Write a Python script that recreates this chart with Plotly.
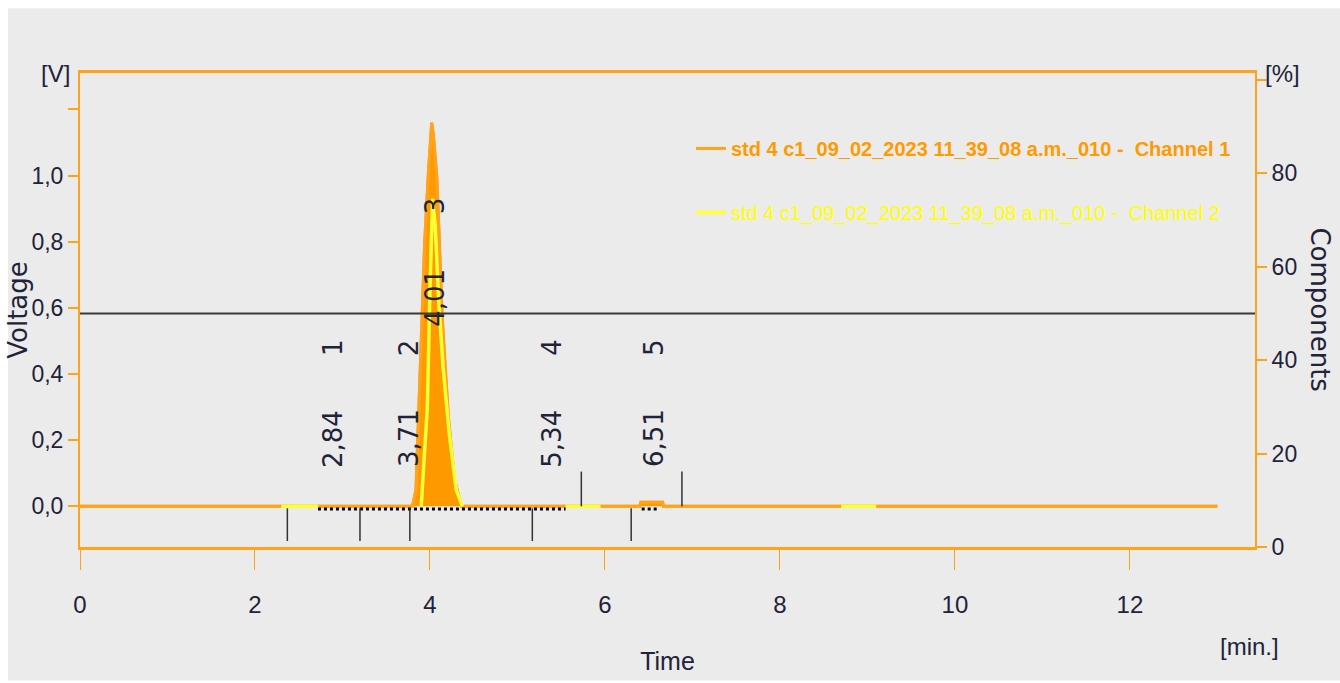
import plotly.graph_objects as go

# ---------------- data ----------------
ch1_time = [0.0, 2.30, 2.72, 3.80, 3.84, 3.87, 3.91, 3.94, 3.98, 4.01, 4.02, 4.04, 4.08, 4.11,
            4.14, 4.21, 4.28, 4.36, 6.40, 6.41, 6.66, 6.67, 13.0]
ch1_volt = [0.0, 0.0, 0.0, 0.0, 0.05, 0.27, 0.55, 0.80, 1.00, 1.14, 1.16, 1.12, 0.99, 0.78,
            0.57, 0.27, 0.08, 0.0, 0.0, 0.012, 0.012, 0.0, 0.0]

ch2_time = [2.30, 2.72, None, 3.90, 3.97, 4.00, 4.03, 4.06, 4.10, 4.15, 4.22, 4.30, 4.37, None,
            5.55, 5.95, None, 8.70, 9.10]
ch2_volt = [0.0, 0.0, None, 0.0, 0.30, 0.65, 0.93, 0.85, 0.62, 0.42, 0.22, 0.05, 0.0, None,
            0.0, 0.0, None, 0.0, 0.0]

baseline_start = [2.72, 6.42]
baseline_end = [5.55, 6.62]
baseline_level = -0.008

peak_ids = ["1", "2", "3", "4", "5"]
peak_rt = [2.84, 3.71, 4.01, 5.34, 6.51]
peak_rt_text = ["2,84", "3,71", "4,01", "5,34", "6,51"]
id_label_v = [0.48, 0.48, 0.91, 0.48, 0.48]
rt_label_v = [0.205, 0.205, 0.63, 0.205, 0.205]

start_marks = [2.37, 3.20, 3.77, 5.17, 6.30]
end_marks = [5.73, 6.88]

threshold_pct = 50

x_ticks = [0, 2, 4, 6, 8, 10, 12]
y_ticks = [0.0, 0.2, 0.4, 0.6, 0.8, 1.0, 1.2]
y_ticktext = ["0,0", "0,2", "0,4", "0,6", "0,8", "1,0", ""]
y2_ticks = [0, 20, 40, 60, 80, 100]
y2_ticktext = ["0", "20", "40", "60", "80", ""]

name1 = "std 4 c1_09_02_2023 11_39_08 a.m._010 -  Channel 1"
name2 = "std 4 c1_09_02_2023 11_39_08 a.m._010 -  Channel 2"

# ---------------- style ----------------
X_RANGE = [0, 13.43]
Y_RANGE = [-0.123, 1.31]
Y2_RANGE = [0, 101.5]
FONT = "Liberation Sans, Arial, sans-serif"
VFONT = "DejaVu Sans, sans-serif"
ORANGE = "#ffa31a"
FILL = "#ff9900"
YELLOW = "#ffff33"
TXT = "#222238"
MARK_LEN = 0.105

fig = go.Figure()

# channel 1 filled area (legend shows the line entry below)
fig.add_trace(go.Scatter(
    x=ch1_time, y=ch1_volt, mode="lines", fill="tozeroy", fillcolor=FILL,
    line=dict(color=ORANGE, width=3), showlegend=False, legendgroup="c1"))
fig.add_trace(go.Scatter(
    x=ch1_time, y=ch1_volt, mode="lines", line=dict(color=ORANGE, width=3),
    legendgroup="c1",
    name="<span style='color:#ff9a00'><b>" + name1 + "</b></span>"))

fig.add_trace(go.Scatter(
    x=ch2_time, y=ch2_volt, mode="lines", connectgaps=False, legendgroup="c2",
    line=dict(color=YELLOW, width=3.5),
    name="<span style='color:#ffff00'>" + name2 + "</span>"))

# integration baselines (dotted)
bx, by = [], []
for s, e in zip(baseline_start, baseline_end):
    bx += [s, e, None]
    by += [baseline_level, baseline_level, None]
fig.add_trace(go.Scatter(x=bx, y=by, mode="lines", showlegend=False,
                         line=dict(color="black", width=3, dash="dot")))

# peak start / end markers
mx, my = [], []
for t in start_marks:
    mx += [t, t, None]
    my += [-0.006, -MARK_LEN, None]
for t in end_marks:
    mx += [t, t, None]
    my += [0.0, MARK_LEN, None]
fig.add_trace(go.Scatter(x=mx, y=my, mode="lines", showlegend=False,
                         line=dict(color="#333333", width=1.5)))

# threshold line on components axis
fig.add_trace(go.Scatter(x=X_RANGE, y=[threshold_pct, threshold_pct], yaxis="y2",
                         mode="lines", showlegend=False,
                         line=dict(color="#3a3a3a", width=2)))

# peak labels
for pid, rt, rtt, v1, v2 in zip(peak_ids, peak_rt, peak_rt_text, id_label_v, rt_label_v):
    fig.add_annotation(x=rt, y=v1, text=pid, textangle=-90, showarrow=False,
                       xshift=4, font=dict(family=VFONT, size=26, color=TXT))
    fig.add_annotation(x=rt, y=v2, text=rtt, textangle=-90, showarrow=False,
                       xshift=4, font=dict(family=VFONT, size=26, color=TXT))

# unit labels and axis titles
fig.add_annotation(xref="paper", yref="paper", x=-0.021, y=1.0, text="[V]", showarrow=False,
                   yanchor="middle", xanchor="center", font=dict(family=FONT, size=24, color=TXT))
fig.add_annotation(xref="paper", yref="paper", x=1.023, y=1.0, text="[%]", showarrow=False,
                   yanchor="middle", xanchor="center", font=dict(family=FONT, size=24, color=TXT))
fig.add_annotation(xref="paper", yref="paper", x=0.995, y=-0.21, text="[min.]", showarrow=False,
                   xanchor="center", yanchor="middle", font=dict(family=FONT, size=24, color=TXT))
fig.add_annotation(xref="paper", yref="paper", x=1.055, y=0.5, text="Components", textangle=90,
                   showarrow=False, xanchor="center", yanchor="middle",
                   font=dict(family=VFONT, size=26, color=TXT))
fig.add_annotation(xref="paper", yref="paper", x=-0.053, y=0.5, text="Voltage", textangle=-90,
                   showarrow=False, xanchor="center", yanchor="middle",
                   font=dict(family=VFONT, size=26, color=TXT))

# white strip on top/left edge of the image
fig.add_shape(type="rect", xref="paper", yref="paper", layer="below",
              x0=(8 - 80) / 1175, x1=(1340 - 80) / 1175, y0=(549 - 683) / 476, y1=(549 - 8) / 476,
              fillcolor="#ebebeb", line=dict(width=0))

fig.update_layout(
    width=1340, height=683,
    margin=dict(l=80, r=85, t=73, b=134),
    paper_bgcolor="white", plot_bgcolor="#fffdd8",
    font=dict(family=FONT, color=TXT),
    legend=dict(x=0.52, y=0.882, xanchor="left", yanchor="top", bgcolor="rgba(0,0,0,0)",
                font=dict(family=FONT, size=20), tracegroupgap=35, itemwidth=30),
    xaxis=dict(range=X_RANGE, tickvals=x_ticks, ticks="outside", ticklen=20, tickcolor=ORANGE,
               tickwidth=1, showgrid=False, zeroline=False, showline=True, mirror=True,
               linecolor=ORANGE, linewidth=3, ticklabelstandoff=14,
               tickfont=dict(family=FONT, size=24, color=TXT),
               title=dict(text="Time", standoff=36, font=dict(family=FONT, size=25, color=TXT))),
    yaxis=dict(range=Y_RANGE, tickvals=y_ticks, ticktext=y_ticktext, ticks="outside", ticklen=10,
               tickcolor=ORANGE, tickwidth=2, showgrid=False, zeroline=False, showline=True,
               linecolor=ORANGE, linewidth=2,
               tickfont=dict(family=FONT, size=23, color=TXT)),
    yaxis2=dict(range=Y2_RANGE, overlaying="y", side="right", tickvals=y2_ticks,
                ticktext=y2_ticktext, ticks="outside", ticklen=10, tickcolor=ORANGE, tickwidth=2,
                showgrid=False, zeroline=False, showline=True, linecolor=ORANGE, linewidth=2,
                tickfont=dict(family=FONT, size=23, color=TXT)),
)

fig.write_html("out.html")
